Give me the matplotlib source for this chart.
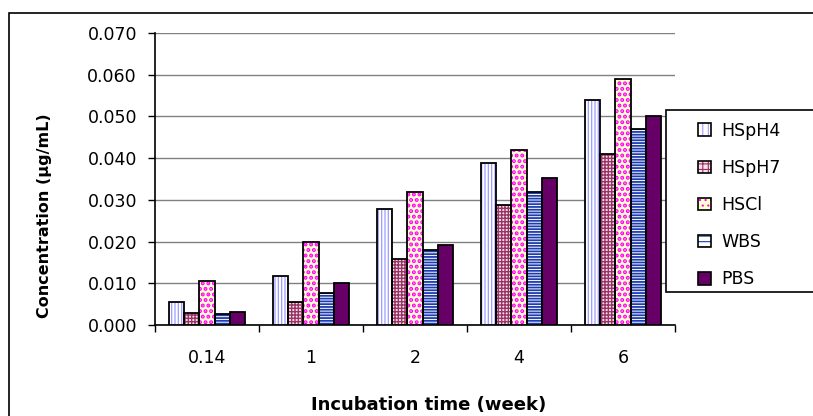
import numpy as np
import matplotlib.pyplot as plt
from matplotlib.patches import Rectangle, Patch

plt.rcParams['font.family'] = ['DejaVu Sans']
plt.rcParams['hatch.linewidth'] = 0.8

weeks = ['0.14', '1', '2', '4', '6']
series = ['HSpH4', 'HSpH7', 'HSCl', 'WBS', 'PBS']
hsph4 = [0.0056, 0.0118, 0.0278, 0.0389, 0.0540]
hsph7 = [0.0028, 0.0056, 0.0158, 0.0288, 0.0409]
hscl = [0.0106, 0.0199, 0.0319, 0.0420, 0.0590]
wbs = [0.0027, 0.0077, 0.0180, 0.0319, 0.0469]
pbs = [0.0030, 0.0100, 0.0192, 0.0353, 0.0500]
values = [hsph4, hsph7, hscl, wbs, pbs]

# face colour, hatch, hatch colour, hatch line width
styles = [('#ffffff', '|||||', '#9c9cff', 0.9),
          ('#f6e0ea', '+++++', '#993366', 1.0),
          ('#ffffcc', '...', '#ff00ff', 2.0),
          ('#ffffff', '------', '#1c3cb0', 1.3),
          ('#660066', '', '#660066', 0.8)]

fig = plt.figure(figsize=(8.13, 4.16), dpi=100)
ax = fig.add_axes([155/813, 1-325/416, 520/813, 292/416])

ind = np.arange(len(weeks))
width = 0.147
for k, (vals, (fc, hatch, hc, hlw)) in enumerate(zip(values, styles)):
    pos = ind + (k - 2) * width
    bars = ax.bar(pos, vals, width, color=fc, hatch=hatch, edgecolor=hc, linewidth=0, zorder=3)
    for b in bars:
        if hasattr(b, 'set_hatch_linewidth'):
            b.set_hatch_linewidth(hlw)
    ax.bar(pos, vals, width, fill=False, edgecolor='black', linewidth=1.3, zorder=4)

ax.set_xlim(-0.5, 4.5)
ax.set_ylim(0, 0.07)
ax.set_yticks(np.arange(0, 0.0701, 0.01))
ax.set_yticklabels(['%.3f' % v for v in np.arange(0, 0.0701, 0.01)], fontsize=12.5)
ax.yaxis.grid(True, color='#808080', linewidth=1, zorder=0)
ax.set_axisbelow(True)
ax.set_xticks(np.arange(-0.5, 4.6, 1))
ax.set_xticklabels([])
ax.set_xticks(ind, minor=True)
ax.set_xticklabels(weeks, minor=True, fontsize=12.5)
ax.tick_params(axis='x', which='minor', length=0, pad=17)
ax.tick_params(axis='both', which='major', direction='out', length=5, width=1, color='black')
ax.tick_params(axis='y', pad=8)
for s in ['top', 'right']:
    ax.spines[s].set_visible(False)
for s in ['left', 'bottom']:
    ax.spines[s].set_linewidth(1.2)

fig.text(429/813, 1-405/416, 'Incubation time (week)', ha='center', va='center',
         fontsize=13, fontweight='bold')
fig.text(45/813, 1-216/416, 'Concentration (µg/mL)', ha='center', va='center',
         rotation=90, fontsize=11.5, fontweight='bold')

# outer chart frame
fig.patches.append(Rectangle((9/813, -0.2), 1.0, (416-13)/416 + 0.2, transform=fig.transFigure,
                             fill=False, edgecolor='black', linewidth=1.2, zorder=0))
# legend frame
fig.patches.append(Rectangle((666/813, 1-292/416), 0.3, 182/416, transform=fig.transFigure,
                             facecolor='white', edgecolor='black', linewidth=1.2, zorder=5))

handles = []
for fc, h, hc, hlw in styles:
    inner = Patch(facecolor=fc, hatch=h[:3], edgecolor=hc, linewidth=0)
    outer = Patch(fill=False, edgecolor='black', linewidth=1.2)
    handles.append((inner, outer))
leg = fig.legend(handles, series, loc='upper left', bbox_to_anchor=(684/813, 1-108/416),
                 frameon=False, fontsize=12.5, handlelength=0.75, handleheight=0.75,
                 labelspacing=1.1, handletextpad=0.6, borderpad=0.3)
leg.set_zorder(6)

fig.savefig('out.png', dpi=100)
